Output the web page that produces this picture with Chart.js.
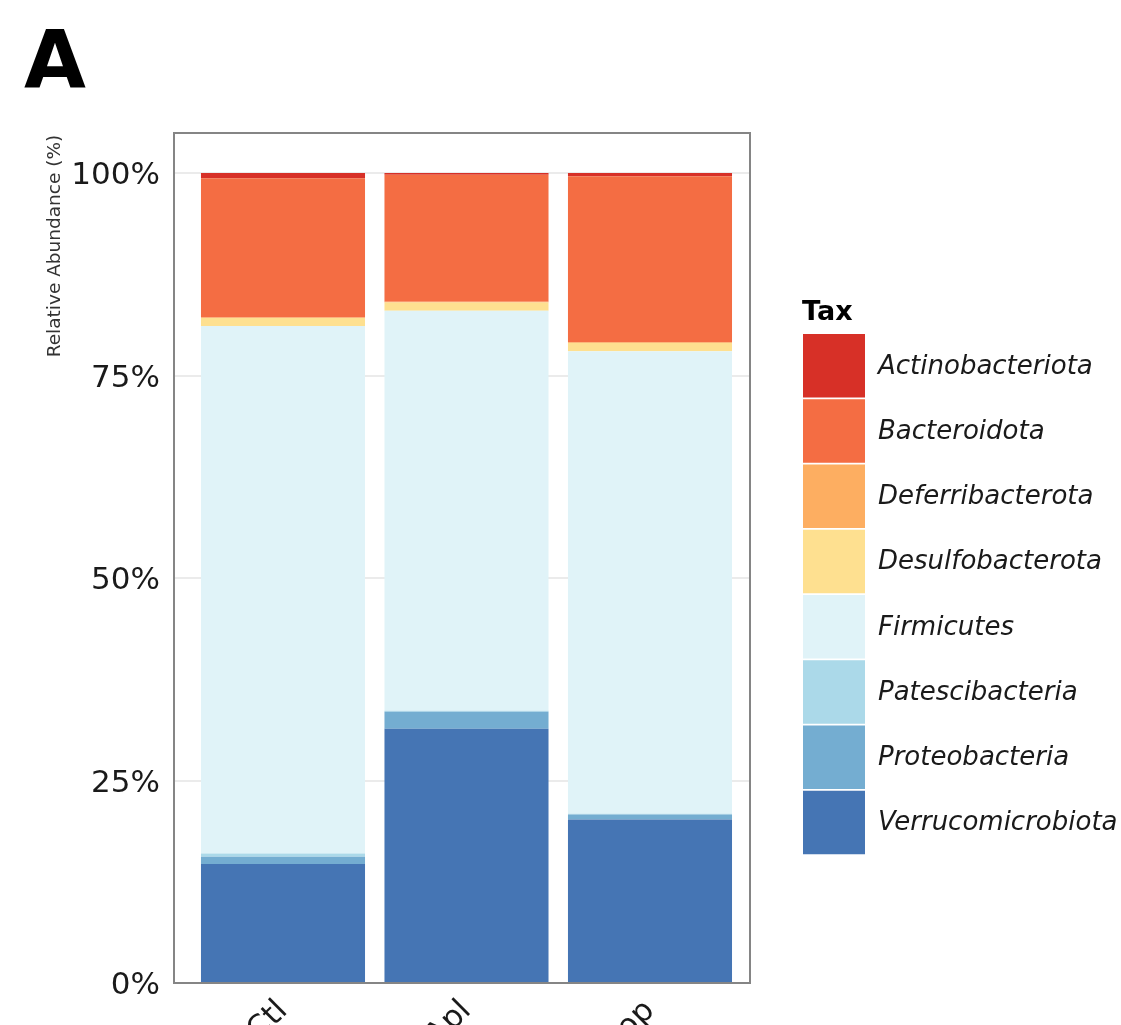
<!DOCTYPE html>
<html>
<head>
<meta charset="utf-8">
<script src="https://cdn.jsdelivr.net/npm/chart.js@4"></script>
<style>
  html, body { margin: 0; padding: 0; background: #fff; overflow: hidden; }
  #wrap { width: 1121px; height: 1100px; }
</style>
</head>
<body>
<div id="wrap"><canvas id="c" width="1121" height="1100"></canvas></div>
<script>
// Samples (x categories)
const samples = ["Ctl", "Apl", "Cop"];
// Taxa, legend order (top to bottom)
const taxa = ["Actinobacteriota", "Bacteroidota", "Deferribacterota", "Desulfobacterota",
              "Firmicutes", "Patescibacteria", "Proteobacteria", "Verrucomicrobiota"];
const taxColors = ["#D73027", "#F46D43", "#FDAE61", "#FEE090",
                   "#E0F3F8", "#ABD9E9", "#74ADD1", "#4575B4"];
// Relative abundance (%) per taxon for each sample
const actinobacteriota  = [0.65, 0.2, 0.4];
const bacteroidota      = [17.2, 15.7, 20.5];
const deferribacterota  = [0.05, 0.1, 0.1];
const desulfobacterota  = [1.0, 1.0, 1.0];
const firmicutes        = [65.1, 49.4, 57.1];
const patescibacteria   = [0.4, 0.1, 0.1];
const proteobacteria    = [0.9, 2.1, 0.6];
const verrucomicrobiota = [14.7, 31.4, 20.2];
const yTicks = [0, 25, 50, 75, 100];

const seriesValues = [actinobacteriota, bacteroidota, deferribacterota, desulfobacterota,
                      firmicutes, patescibacteria, proteobacteria, verrucomicrobiota];

// stack order bottom-up = reverse legend order
const datasets = [];
for (let i = taxa.length - 1; i >= 0; i--) {
  datasets.push({
    label: taxa[i],
    data: seriesValues[i].map((v, j) => ({ x: j + 1, y: v })),
    backgroundColor: taxColors[i],
    borderWidth: 0,
    categoryPercentage: 1.0,
    barPercentage: 0.894
  });
}

const FONT = "'DejaVu Sans', sans-serif";

const decor = {
  id: 'decor',
  afterDraw(chart) {
    const ctx = chart.ctx;
    const a = chart.chartArea;
    ctx.save();
    // panel border
    ctx.strokeStyle = '#858585';
    ctx.lineWidth = 2;
    ctx.strokeRect(a.left, a.top, a.right - a.left, a.bottom - a.top);
    // panel letter
    ctx.fillStyle = '#000';
    ctx.font = "bold 80px " + FONT;
    ctx.textAlign = 'left';
    ctx.textBaseline = 'alphabetic';
    ctx.fillText('A', 24, 88);
    // y axis title
    ctx.save();
    ctx.translate(55, 246);
    ctx.rotate(-Math.PI / 2);
    ctx.font = "18.5px " + FONT;
    ctx.fillStyle = '#333';
    ctx.textAlign = 'center';
    ctx.textBaseline = 'middle';
    ctx.fillText('Relative Abundance (%)', 0, 0);
    ctx.restore();
    // legend
    ctx.fillStyle = '#000';
    ctx.font = "bold 27px " + FONT;
    ctx.textAlign = 'left';
    ctx.textBaseline = 'alphabetic';
    ctx.fillText('Tax', 802, 320);
    const x0 = 803, y0 = 334, step = 65.25, bw = 62, bh = 63.5;
    for (let i = 0; i < taxa.length; i++) {
      const y = y0 + i * step;
      ctx.fillStyle = taxColors[i];
      ctx.fillRect(x0, y, bw, bh);
      ctx.fillStyle = '#1a1a1a';
      ctx.font = "italic 26px " + FONT;
      ctx.textBaseline = 'middle';
      ctx.fillText(taxa[i], 878, y + bh / 2 + 1);
    }
    ctx.restore();
  }
};

new Chart(document.getElementById('c'), {
  type: 'bar',
  data: { datasets },
  options: {
    responsive: false,
    animation: false,
    devicePixelRatio: 1,
    layout: { padding: { left: 0, top: 133, right: 371, bottom: 0 } },
    plugins: { legend: { display: false }, tooltip: { enabled: false } },
    scales: {
      x: {
        type: 'linear',
        stacked: true,
        offset: false,
        min: 0.406,
        max: 3.545,
        afterBuildTicks: s => { s.ticks = samples.map((_, i) => ({ value: i + 1 })); },
        afterFit: s => { s.height = 117; },
        grid: { display: false, drawTicks: false },
        border: { display: false },
        ticks: {
          autoSkip: false,
          minRotation: 45,
          maxRotation: 45,
          padding: 10,
          color: '#1a1a1a',
          font: { family: FONT, size: 31 },
          callback: v => samples[v - 1] || ''
        }
      },
      y: {
        stacked: true,
        min: 0,
        max: 104.94,
        afterBuildTicks: s => { s.ticks = yTicks.map(v => ({ value: v })); },
        afterFit: s => { s.width = 174; },
        grid: { color: '#ebebeb', lineWidth: 2, drawTicks: false },
        border: { display: false },
        ticks: {
          padding: 14,
          labelOffset: 3,
          color: '#1a1a1a',
          font: { family: FONT, size: 31 },
          callback: v => v + '%'
        }
      }
    }
  },
  plugins: [decor]
});
</script>
</body>
</html>
